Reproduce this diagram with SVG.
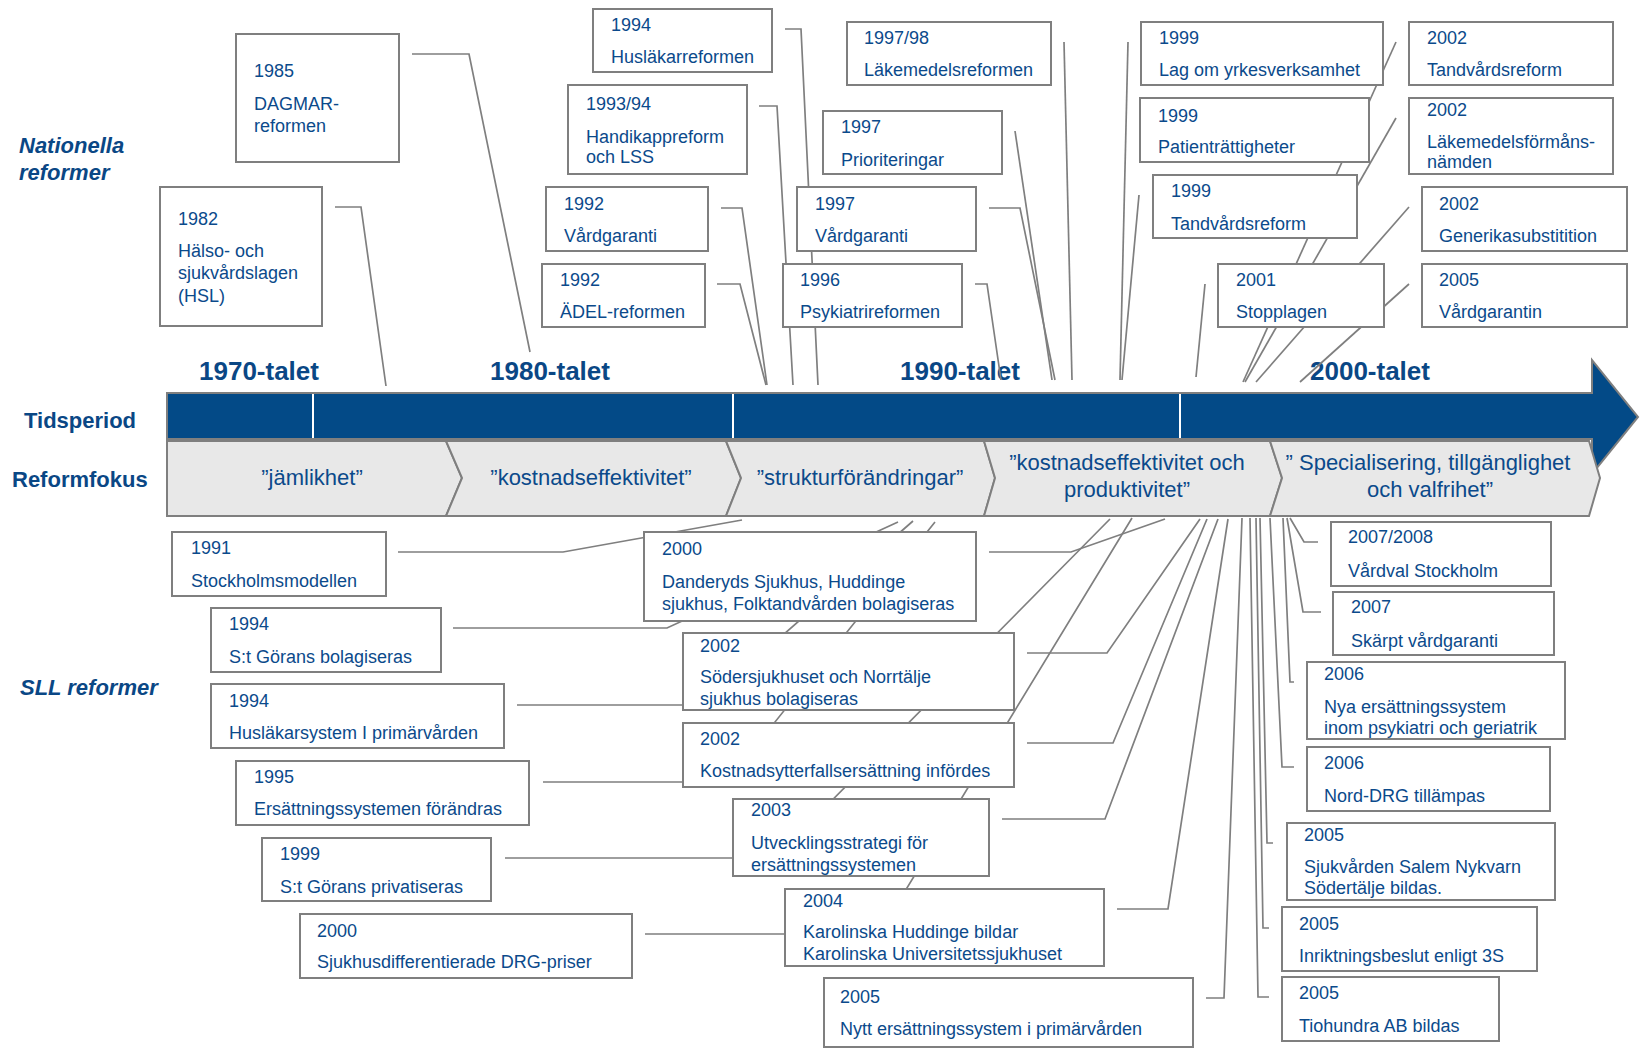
<svg xmlns="http://www.w3.org/2000/svg" width="1640" height="1049" viewBox="0 0 1640 1049">
<style>
text{font-family:"Liberation Sans",Arial,sans-serif;fill:#0b4a8b}
.t{font-size:18px}
.h{font-size:22px;font-weight:bold;fill:#0a4785}
.hi{font-style:italic}
.dec{font-size:26px;font-weight:bold;fill:#0a4785}
.ct{font-size:22px;text-anchor:middle}
.box{fill:#fff;stroke:#7f7f7f;stroke-width:2}
.conn{fill:none;stroke:#7f7f7f;stroke-width:1.7}
.chev{fill:#e8e8e8;stroke:#7f7f7f;stroke-width:2;stroke-linejoin:miter}
.bar{fill:#034a87;stroke:#7f7f7f;stroke-width:2}
.sep{stroke:#fff;stroke-width:2}
</style>

<g id="headings">
<text class="h hi" x="19" y="153">Nationella</text>
<text class="h hi" x="19" y="180">reformer</text>
<text class="h" x="24" y="428">Tidsperiod</text>
<text class="h" x="12" y="487">Reformfokus</text>
<text class="h hi" x="20" y="695">SLL reformer</text>
</g>

<g id="decades">
<text class="dec" x="199" y="380">1970-talet</text>
<text class="dec" x="490" y="380">1980-talet</text>
<text class="dec" x="900" y="380">1990-talet</text>
<text class="dec" x="1310" y="380">2000-talet</text>
</g>

<g id="connectors">
<polyline class="conn" points="335,207 361,207 386,386"/>
<polyline class="conn" points="412,54 469,54 530,352"/>
<polyline class="conn" points="717,284 740,284 766,385"/>
<polyline class="conn" points="721,208 742,208 767,385"/>
<polyline class="conn" points="759,106 777,106 793,385"/>
<polyline class="conn" points="785,29 801,29 818,385"/>
<polyline class="conn" points="975,284 987,284 1001,380"/>
<polyline class="conn" points="989,208 1020,208 1055,380"/>
<polyline class="conn" points="1015,131 1052,380"/>
<polyline class="conn" points="1064,42 1072,380"/>
<polyline class="conn" points="1128,42 1120,380"/>
<polyline class="conn" points="1139,195 1122,380"/>
<polyline class="conn" points="1205,284 1196,377"/>
<polyline class="conn" points="1396,42 1243,382"/>
<polyline class="conn" points="1396,118 1245,382"/>
<polyline class="conn" points="1409,207 1256,382"/>
<polyline class="conn" points="1409,284 1300,382"/>

<polyline class="conn" points="398,552 563,552 742,520"/>
<polyline class="conn" points="453,628 667,628 898,522"/>
<polyline class="conn" points="517,705 703,705 913,521"/>
<polyline class="conn" points="543,782 727,782 935,522"/>
<polyline class="conn" points="505,858 775,858 1110,519"/>
<polyline class="conn" points="645,934 879,934 1132,518"/>
<polyline class="conn" points="989,552 1071,552 1165,519"/>
<polyline class="conn" points="1027,653 1107,653 1200,519"/>
<polyline class="conn" points="1027,743 1113,743 1207,519"/>
<polyline class="conn" points="1002,819 1105,819 1218,519"/>
<polyline class="conn" points="1117,909 1168,909 1228,519"/>
<polyline class="conn" points="1206,998 1224,998 1242,518"/>
<polyline class="conn" points="1269,997 1258,997 1250,518"/>
<polyline class="conn" points="1269,928 1263,928 1256,518"/>
<polyline class="conn" points="1273,843 1267,843 1260,518"/>
<polyline class="conn" points="1294,767 1282,767 1270,518"/>
<polyline class="conn" points="1294,682 1290,682 1283,518"/>
<polyline class="conn" points="1321,612 1303,612 1287,518"/>
<polyline class="conn" points="1318,542 1304,542 1290,518"/>
</g>

<g id="timeline">
<polygon class="bar" points="167,393 1592,393 1592,360 1638,417 1592,474 1592,439 167,439"/>
<line class="sep" x1="313" y1="394" x2="313" y2="438"/>
<line class="sep" x1="733" y1="394" x2="733" y2="438"/>
<line class="sep" x1="1180" y1="394" x2="1180" y2="438"/>
</g>

<g id="focus">
<polygon class="chev" points="167,441 446,441 462,478 446,516 167,516"/>
<polygon class="chev" points="446,441 726,441 741,478 726,516 446,516 462,478"/>
<polygon class="chev" points="726,441 984,441 995,478 984,516 726,516 741,478"/>
<polygon class="chev" points="984,441 1270,441 1282,478 1270,516 984,516 995,478"/>
<polygon class="chev" points="1270,441 1589,441 1600,478 1589,516 1270,516 1282,478"/>
<text class="ct" x="312" y="485">”jämlikhet”</text>
<text class="ct" x="591" y="485">”kostnadseffektivitet”</text>
<text class="ct" x="860" y="485">”strukturförändringar”</text>
<text class="ct" x="1127" y="470">”kostnadseffektivitet och</text>
<text class="ct" x="1127" y="497">produktivitet”</text>
<text class="ct" x="1428" y="470">” Specialisering, tillgänglighet</text>
<text class="ct" x="1430" y="497">och valfrihet”</text>
</g>

<g id="n1985"><rect class="box" x="236" y="34" width="163" height="128"/><text class="t" x="254" y="77">1985</text><text class="t" x="254" y="110">DAGMAR-</text><text class="t" x="254" y="132">reformen</text></g>
<g id="n1982"><rect class="box" x="160" y="187" width="162" height="139"/><text class="t" x="178" y="225">1982</text><text class="t" x="178" y="257">Hälso- och</text><text class="t" x="178" y="279">sjukvårdslagen</text><text class="t" x="178" y="302">(HSL)</text></g>
<g id="n1994h"><rect class="box" x="593" y="9" width="179" height="63"/><text class="t" x="611" y="31">1994</text><text class="t" x="611" y="63">Husläkarreformen</text></g>
<g id="n1993"><rect class="box" x="568" y="85" width="179" height="89"/><text class="t" x="586" y="110">1993/94</text><text class="t" x="586" y="143">Handikappreform</text><text class="t" x="586" y="163">och LSS</text></g>
<g id="n1992v"><rect class="box" x="546" y="187" width="162" height="64"/><text class="t" x="564" y="210">1992</text><text class="t" x="564" y="242">Vårdgaranti</text></g>
<g id="n1992a"><rect class="box" x="542" y="264" width="163" height="63"/><text class="t" x="560" y="286">1992</text><text class="t" x="560" y="318">ÄDEL-reformen</text></g>
<g id="n1997v"><rect class="box" x="797" y="187" width="179" height="64"/><text class="t" x="815" y="210">1997</text><text class="t" x="815" y="242">Vårdgaranti</text></g>
<g id="n1996"><rect class="box" x="783" y="264" width="179" height="63"/><text class="t" x="800" y="286">1996</text><text class="t" x="800" y="318">Psykiatrireformen</text></g>
<g id="n1997p"><rect class="box" x="823" y="111" width="179" height="63"/><text class="t" x="841" y="133">1997</text><text class="t" x="841" y="166">Prioriteringar</text></g>
<g id="n1997l"><rect class="box" x="847" y="22" width="204" height="63"/><text class="t" x="864" y="44">1997/98</text><text class="t" x="864" y="76">Läkemedelsreformen</text></g>
<g id="n1999l"><rect class="box" x="1141" y="22" width="242" height="63"/><text class="t" x="1159" y="44">1999</text><text class="t" x="1159" y="76">Lag om yrkesverksamhet</text></g>
<g id="n1999p"><rect class="box" x="1140" y="98" width="229" height="64"/><text class="t" x="1158" y="122">1999</text><text class="t" x="1158" y="153">Patienträttigheter</text></g>
<g id="n1999t"><rect class="box" x="1153" y="175" width="204" height="63"/><text class="t" x="1171" y="197">1999</text><text class="t" x="1171" y="230">Tandvårdsreform</text></g>
<g id="n2001"><rect class="box" x="1218" y="264" width="166" height="63"/><text class="t" x="1236" y="286">2001</text><text class="t" x="1236" y="318">Stopplagen</text></g>
<g id="n2002t"><rect class="box" x="1409" y="22" width="204" height="63"/><text class="t" x="1427" y="44">2002</text><text class="t" x="1427" y="76">Tandvårdsreform</text></g>
<g id="n2002l"><rect class="box" x="1409" y="98" width="204" height="76"/><text class="t" x="1427" y="116">2002</text><text class="t" x="1427" y="148">Läkemedelsförmåns-</text><text class="t" x="1427" y="168">nämden</text></g>
<g id="n2002g"><rect class="box" x="1422" y="187" width="205" height="64"/><text class="t" x="1439" y="210">2002</text><text class="t" x="1439" y="242">Generikasubstitition</text></g>
<g id="n2005v"><rect class="box" x="1422" y="264" width="205" height="63"/><text class="t" x="1439" y="286">2005</text><text class="t" x="1439" y="318">Vårdgarantin</text></g>

<g id="s2000"><rect class="box" x="644" y="532" width="332" height="89"/><text class="t" x="662" y="555">2000</text><text class="t" x="662" y="588">Danderyds Sjukhus, Huddinge</text><text class="t" x="662" y="610">sjukhus, Folktandvården bolagiseras</text></g>
<g id="s2002a"><rect class="box" x="683" y="633" width="331" height="77"/><text class="t" x="700" y="652">2002</text><text class="t" x="700" y="683">Södersjukhuset och Norrtälje</text><text class="t" x="700" y="705">sjukhus bolagiseras</text></g>
<g id="s2002b"><rect class="box" x="683" y="723" width="331" height="64"/><text class="t" x="700" y="745">2002</text><text class="t" x="700" y="777">Kostnadsytterfallsersättning infördes</text></g>
<g id="s2003"><rect class="box" x="733" y="799" width="256" height="77"/><text class="t" x="751" y="816">2003</text><text class="t" x="751" y="849">Utvecklingsstrategi för</text><text class="t" x="751" y="871">ersättningssystemen</text></g>
<g id="s2004"><rect class="box" x="785" y="889" width="319" height="77"/><text class="t" x="803" y="907">2004</text><text class="t" x="803" y="938">Karolinska Huddinge bildar</text><text class="t" x="803" y="960">Karolinska Universitetssjukhuset</text></g>
<g id="s2005n"><rect class="box" x="824" y="978" width="369" height="69"/><text class="t" x="840" y="1003">2005</text><text class="t" x="840" y="1035">Nytt ersättningssystem i primärvården</text></g>

<g id="s1991"><rect class="box" x="172" y="532" width="214" height="64"/><text class="t" x="191" y="554">1991</text><text class="t" x="191" y="587">Stockholmsmodellen</text></g>
<g id="s1994a"><rect class="box" x="211" y="608" width="230" height="64"/><text class="t" x="229" y="630">1994</text><text class="t" x="229" y="663">S:t Görans bolagiseras</text></g>
<g id="s1994b"><rect class="box" x="211" y="684" width="293" height="64"/><text class="t" x="229" y="707">1994</text><text class="t" x="229" y="739">Husläkarsystem I primärvården</text></g>
<g id="s1995"><rect class="box" x="236" y="761" width="293" height="64"/><text class="t" x="254" y="783">1995</text><text class="t" x="254" y="815">Ersättningssystemen förändras</text></g>
<g id="s1999"><rect class="box" x="262" y="838" width="229" height="63"/><text class="t" x="280" y="860">1999</text><text class="t" x="280" y="893">S:t Görans privatiseras</text></g>
<g id="s2000d"><rect class="box" x="300" y="914" width="332" height="64"/><text class="t" x="317" y="937">2000</text><text class="t" x="317" y="968">Sjukhusdifferentierade DRG-priser</text></g>

<g id="s2007v"><rect class="box" x="1331" y="522" width="220" height="64"/><text class="t" x="1348" y="543">2007/2008</text><text class="t" x="1348" y="577">Vårdval Stockholm</text></g>
<g id="s2007s"><rect class="box" x="1333" y="592" width="221" height="63"/><text class="t" x="1351" y="613">2007</text><text class="t" x="1351" y="647">Skärpt vårdgaranti</text></g>
<g id="s2006n"><rect class="box" x="1307" y="662" width="258" height="77"/><text class="t" x="1324" y="680">2006</text><text class="t" x="1324" y="713">Nya ersättningssystem</text><text class="t" x="1324" y="734">inom psykiatri och geriatrik</text></g>
<g id="s2006d"><rect class="box" x="1307" y="747" width="243" height="64"/><text class="t" x="1324" y="769">2006</text><text class="t" x="1324" y="802">Nord-DRG tillämpas</text></g>
<g id="s2005s"><rect class="box" x="1287" y="823" width="268" height="77"/><text class="t" x="1304" y="841">2005</text><text class="t" x="1304" y="873">Sjukvården Salem Nykvarn</text><text class="t" x="1304" y="894">Södertälje bildas.</text></g>
<g id="s2005i"><rect class="box" x="1282" y="907" width="255" height="64"/><text class="t" x="1299" y="930">2005</text><text class="t" x="1299" y="962">Inriktningsbeslut enligt 3S</text></g>
<g id="s2005t"><rect class="box" x="1282" y="977" width="217" height="64"/><text class="t" x="1299" y="999">2005</text><text class="t" x="1299" y="1032">Tiohundra AB bildas</text></g>
</svg>
